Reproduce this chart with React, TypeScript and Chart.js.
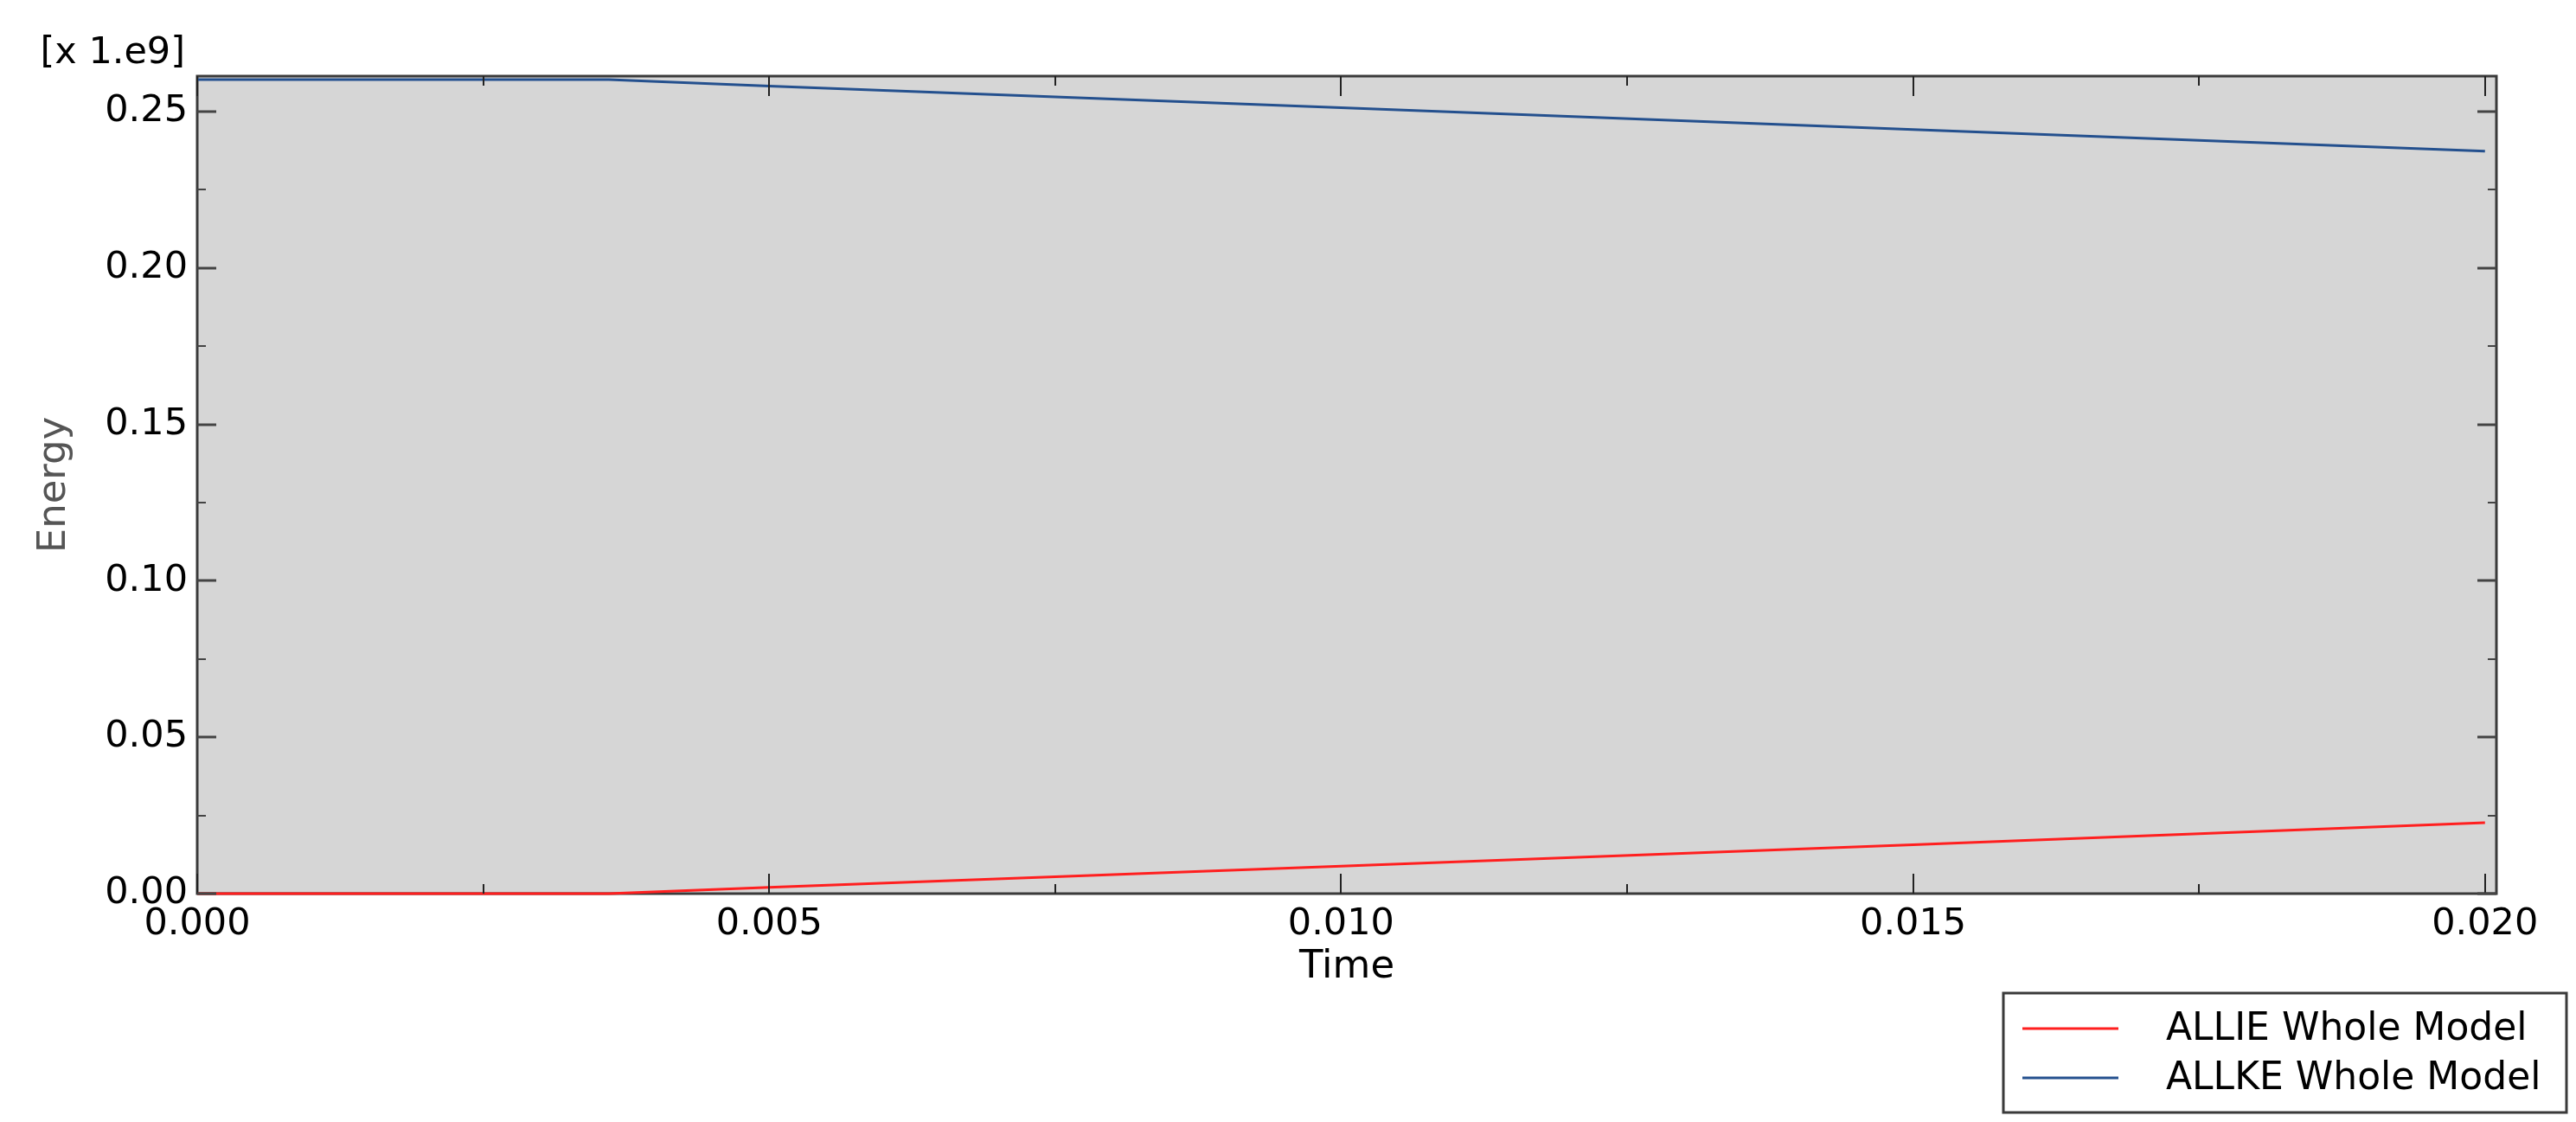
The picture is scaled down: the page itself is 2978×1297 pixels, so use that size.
import React, { useEffect, useRef } from "react";
import { Chart, registerables } from "chart.js";

Chart.register(...registerables);

// series (values are x 1.e9)
const seriesNames = ["ALLIE Whole Model", "ALLKE Whole Model"];
const seriesColors = ["#ff1f1f", "#24508e"];

const timeValues = [0, 0.0036, 0.005, 0.01, 0.015, 0.02];
const allieValues = [0, 0, 0.002, 0.0088, 0.0156, 0.0227];
const allkeValues = [0.2602, 0.2602, 0.2581, 0.2512, 0.2442, 0.2373];

const xTicks = [0, 0.005, 0.01, 0.015, 0.02];
const xMinorTicks = [0.0025, 0.0075, 0.0125, 0.0175];
const yTicks = [0, 0.05, 0.1, 0.15, 0.2, 0.25];
const yMinorTicks = [0.025, 0.075, 0.125, 0.175, 0.225];

const FONT = "'DejaVu Sans', Verdana, sans-serif";

// grey plot box + border under the curves, inward tick marks over them
const frame = {
  id: "frame",
  beforeDatasetsDraw(chart: any) {
    const { ctx, chartArea: a } = chart;
    ctx.save();
    ctx.fillStyle = "#d6d6d6";
    ctx.fillRect(a.left, a.top, a.right - a.left, a.bottom - a.top);
    ctx.strokeStyle = "#3a3a3a";
    ctx.lineWidth = 3;
    ctx.strokeRect(a.left, a.top, a.right - a.left, a.bottom - a.top);
    ctx.restore();
  },
  afterDatasetsDraw(chart: any) {
    const { ctx, chartArea: a, scales } = chart;
    const xs = scales.x;
    const ys = scales.y;
    ctx.save();
    ctx.strokeStyle = "#222";
    ctx.lineWidth = 2;
    const xt = (vals: number[], len: number) => {
      vals.forEach((v) => {
        const px = Math.round(xs.getPixelForValue(v));
        ctx.beginPath();
        ctx.moveTo(px, a.bottom);
        ctx.lineTo(px, a.bottom - len);
        ctx.moveTo(px, a.top);
        ctx.lineTo(px, a.top + len);
        ctx.stroke();
      });
    };
    xt(xTicks, 23);
    xt(xMinorTicks, 11);
    ctx.strokeStyle = "#444";
    const yt = (vals: number[], len: number, w: number) => {
      ctx.lineWidth = w;
      vals.forEach((v) => {
        const py = Math.round(ys.getPixelForValue(v));
        ctx.beginPath();
        ctx.moveTo(a.left, py);
        ctx.lineTo(a.left + len, py);
        ctx.moveTo(a.right, py);
        ctx.lineTo(a.right - len, py);
        ctx.stroke();
      });
    };
    yt(yTicks, 22, 3);
    yt(yMinorTicks, 10, 2);
    ctx.restore();
  },
  afterDraw(chart: any) {
    const { ctx, chartArea: a, width: W, height: H } = chart;
    ctx.save();
    // multiplier label above the y axis
    ctx.fillStyle = "#000";
    ctx.font = `43px ${FONT}`;
    ctx.textAlign = "right";
    ctx.textBaseline = "alphabetic";
    ctx.fillText("[x 1.e9]", a.left - 14, a.top - 15);

    // boxed legend, bottom right
    const bw = 651;
    const bh = 138;
    const bx = W - 11 - bw;
    const by = H - 11 - bh;
    ctx.fillStyle = "#fff";
    ctx.fillRect(bx, by, bw, bh);
    ctx.strokeStyle = "#3a3a3a";
    ctx.lineWidth = 3;
    ctx.strokeRect(bx, by, bw, bh);
    ctx.font = `44px ${FONT}`;
    ctx.textAlign = "left";
    chart.data.datasets.forEach((ds: any, i: number) => {
      const ly = by + 41 + i * 57;
      ctx.strokeStyle = ds.borderColor;
      ctx.lineWidth = 3;
      ctx.beginPath();
      ctx.moveTo(bx + 22, ly);
      ctx.lineTo(bx + 133, ly);
      ctx.stroke();
      ctx.fillStyle = "#000";
      ctx.fillText(ds.label, bx + 188, ly + 13);
    });
    ctx.restore();
  },
};

const EnergyChart: React.FC = () => {
  const canvasRef = useRef<HTMLCanvasElement | null>(null);
  const chartRef = useRef<Chart | null>(null);

  useEffect(() => {
    document.body.style.margin = "0";
    if (chartRef.current) chartRef.current.destroy();
    if (!canvasRef.current) return;

    const series = [allieValues, allkeValues];
    const datasets = series.map((vals, i) => ({
      label: seriesNames[i],
      data: timeValues.map((t, j) => ({ x: t, y: vals[j] })),
      borderColor: seriesColors[i],
      backgroundColor: seriesColors[i],
      borderWidth: 3,
      pointRadius: 0,
      tension: 0,
      clip: false as any,
    }));

    chartRef.current = new Chart(canvasRef.current, {
      type: "line",
      data: { datasets },
      options: {
        animation: false,
        responsive: true,
        maintainAspectRatio: false,
        layout: { padding: { left: 0, right: 92, top: 88, bottom: 0 } },
        plugins: {
          legend: { display: false },
          tooltip: { enabled: false },
        },
        scales: {
          x: {
            type: "linear",
            min: 0,
            max: 0.0201,
            grid: { display: false, drawTicks: false },
            border: { display: false },
            afterBuildTicks: (s: any) => {
              s.ticks = xTicks.map((v) => ({ value: v }));
            },
            afterFit: (s: any) => {
              s.height = 264;
            },
            ticks: {
              autoSkip: false,
              maxRotation: 0,
              padding: 10,
              color: "#000",
              font: { family: FONT, size: 43 },
              callback: (v: any) => Number(v).toFixed(3),
            },
            title: {
              display: true,
              text: "Time",
              color: "#000",
              font: { family: FONT, size: 45 },
              padding: { top: 0, bottom: 152 },
            },
          },
          y: {
            type: "linear",
            min: 0,
            max: 0.2613,
            grid: { display: false, drawTicks: false },
            border: { display: false },
            afterBuildTicks: (s: any) => {
              s.ticks = yTicks.map((v) => ({ value: v }));
            },
            afterFit: (s: any) => {
              s.width = 228;
            },
            ticks: {
              autoSkip: false,
              padding: 11,
              color: "#000",
              font: { family: FONT, size: 43 },
              callback: (v: any) => Number(v).toFixed(2),
            },
            title: {
              display: true,
              text: "Energy",
              color: "#555",
              font: { family: FONT, size: 45 },
              padding: { top: 36, bottom: 0 },
            },
          },
        },
      },
      plugins: [frame],
    });

    return () => {
      if (chartRef.current) {
        chartRef.current.destroy();
        chartRef.current = null;
      }
    };
  }, []);

  return (
    <div style={{ position: "relative", width: 2978, height: 1297, background: "#fff" }}>
      <canvas ref={canvasRef}></canvas>
    </div>
  );
};

export default function App() {
  return <EnergyChart />;
}
